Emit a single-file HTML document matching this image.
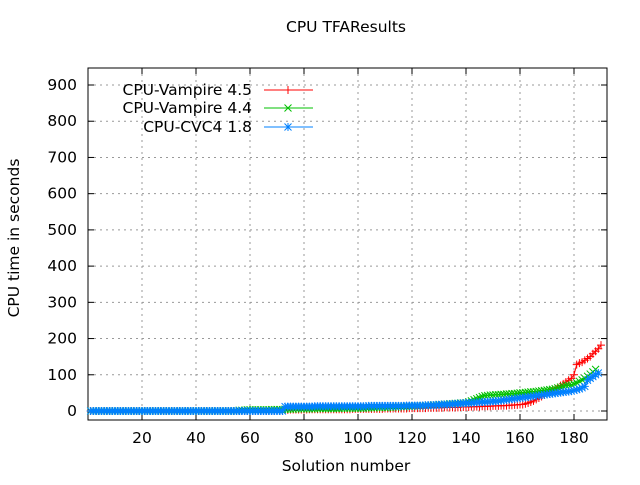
<!DOCTYPE html>
<html><head><meta charset="utf-8"><style>
body{margin:0;background:#fff;font-family:"Liberation Sans","DejaVu Sans",sans-serif}
svg text{font-family:"DejaVu Sans","Liberation Sans",sans-serif;font-size:15.5px;fill:#000}
</style></head><body>
<svg id="c" width="640" height="480"></svg>
<script>
const xTicks=[20,40,60,80,100,120,140,160,180];
const yTicks=[0,100,200,300,400,500,600,700,800,900];
const z=n=>Array(n).fill(0);
const redVals=[].concat(z(70),[1,1,3,3,4,4,4,4,4,4, 4,5,5,5,5,5,5,5,5,5, 5,5,5,5,5,5,5,6,6,6, 6,6,6,6,6,6,6,6,6,7, 7,7,7,7,7,7,7,7,8,8, 8,8,8,8,8,9,9,9,9,9, 9,10,10,10,10,10,10,11,11,11, 11,12,12,12,12,13,13,13,13,14, 14,14,15,15,15,16,16,17,17,18, 18,20,22,25,28,32,36,40,44,48, 52,56,60,65,70,75,80,85,90,100, 128,132,135,140,145,150,158,165,172,182]);
const greenVals=[].concat(z(55),[2,2,2,3,3,3,3,3,3,3, 3,3,4,4,4,4,4, 5,5,5,5,6,6,6,6,6,6, 6,6,7,7,7,7,7,7,7,7, 7,8,8,8,8,8,8,8, 8,8,9,9,9,9,10,10,10,10, 10,11,11,11,12,12,12,13,13,13, 14,14,14,15,15,16,16,17,17,18, 18,19,19,20,20,21,21,22,22,23, 25,28,31,34,37,40,42,43,44, 44,45,45,46,46,47,47,48,48,49, 50,50,51,52,53, 53,54,55,56,57,58,59,60,62,64, 66,68,70,71, 72,75,78,82,86,90,96,102,108,115]);
const blueVals=[].concat(z(72),[12,12,12,12,12,12,12,12,12,12, 12,13,13,13,13,13,13,13,13,13, 13,13,13,13,13,13,13,13,13,13, 13,14,14,14,14,14,14,14,14,14, 14,14,14,14,14,15,15,15,15,15, 15,15,16,16,16,16,17,17,18,18, 18,19,19,20,20,21,21,22,22,23, 23,24,24,25,25,26,26,27,27,28, 29,30,31,32,33,34,35,36,37,38, 39,40,41,42,43,44,45,46,47,48, 49,50,51,52,53,54,55,57,59,61, 64,68,85,90,95,100,105]);
const S="http://www.w3.org/2000/svg",svg=document.getElementById('c');
const L=88,R=607,T=68,B=420;
const sx=v=>L+v*(574-142)/160;
const sy=v=>411-v*(411-85)/900;
function el(t,a,p){const e=document.createElementNS(S,t);for(const k in a)e.setAttribute(k,a[k]);(p||svg).appendChild(e);return e;}
const grid=el('g',{});
xTicks.forEach(v=>{el('line',{x1:sx(v),x2:sx(v),y1:T,y2:B,stroke:'#999','stroke-dasharray':'2,4'},grid);
 el('line',{x1:sx(v),x2:sx(v),y1:B,y2:B-6,stroke:'#000'});el('line',{x1:sx(v),x2:sx(v),y1:T,y2:T+6,stroke:'#000'});
 const t=el('text',{x:sx(v),y:B+23,'text-anchor':'middle'});t.textContent=v;});
yTicks.forEach(v=>{el('line',{x1:L,x2:R,y1:sy(v),y2:sy(v),stroke:'#999','stroke-dasharray':'2,4'},grid);
 el('line',{x1:L,x2:L+6,y1:sy(v),y2:sy(v),stroke:'#000'});el('line',{x1:R,x2:R-6,y1:sy(v),y2:sy(v),stroke:'#000'});
 const t=el('text',{x:L-11,y:sy(v)+5,'text-anchor':'end'});t.textContent=v;});
const fr=el('rect',{x:L,y:T,width:R-L,height:B-T,fill:'none',stroke:'#000'});
function plus(g,x,y,c){el('path',{d:`M${x-4} ${y}h8M${x} ${y-4}v8`,stroke:c,fill:'none'},g);}
function cross(g,x,y,c){el('path',{d:`M${x-3.5} ${y-3.5}l7 7M${x-3.5} ${y+3.5}l7 -7`,stroke:c,fill:'none'},g);}
function star(g,x,y,c){plus(g,x,y,c);cross(g,x,y,c);}
const series=[[redVals,'#ff0000',plus,'series-vampire-4-5'],[greenVals,'#00c000',cross,'series-vampire-4-4'],[blueVals,'#0080ff',star,'series-cvc4-1-8']];
series.forEach(([vals,c,m,n])=>{const g=el('g',{});
 el('polyline',{points:vals.map((v,i)=>sx(i+1)+','+sy(v)).join(' '),fill:'none',stroke:c},g);
 vals.forEach((v,i)=>m(g,sx(i+1),sy(v),c));});
const leg=[['CPU-Vampire 4.5','#ff0000',plus,90],['CPU-Vampire 4.4','#00c000',cross,108],['CPU-CVC4 1.8','#0080ff',star,127]];
leg.forEach(([t,c,m,y])=>{const g=el('g',{});
 const tx=el('text',{x:252,y:y+5,'text-anchor':'end'},g);tx.textContent=t;
 el('line',{x1:264,x2:313,y1:y,y2:y,stroke:c},g);m(g,288,y,c);});
const tt=el('text',{x:346,y:32,'text-anchor':'middle'});tt.textContent='CPU TFAResults';
const xt=el('text',{x:346,y:471,'text-anchor':'middle'});xt.textContent='Solution number';
const yt=el('text',{x:19,y:238,'text-anchor':'middle',transform:'rotate(-90 19 238)'});yt.textContent='CPU time in seconds';
</script></body></html>
